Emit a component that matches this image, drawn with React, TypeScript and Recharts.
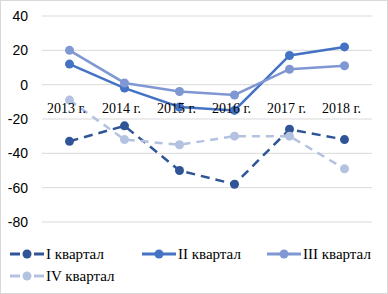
import { CartesianGrid, Line, LineChart, XAxis, YAxis } from "recharts";

const categories = ["2013 г.", "2014 г.", "2015 г.", "2016 г.", "2017 г.", "2018 г."];
const q1 = [-33, -24, -50, -58, -26, -32];
const q2 = [12, -2, -13, -15, 17, 22];
const q3 = [20, 1, -4, -6, 9, 11];
const q4 = [-9, -32, -35, -30, -30, -49];
const yTicks = [-80, -60, -40, -20, 0, 20, 40];

const series = [
  { key: "q1", name: "I квартал", color: "#2f5597", dash: "9 6" },
  { key: "q2", name: "II квартал", color: "#4472c4", dash: undefined },
  { key: "q3", name: "III квартал", color: "#7f97d2", dash: undefined },
  { key: "q4", name: "IV квартал", color: "#b4c2e2", dash: "8 6" },
];

const data = categories.map((name, i) => ({
  name,
  q1: q1[i],
  q2: q2[i],
  q3: q3[i],
  q4: q4[i],
}));

const W = 388;
const H = 294;
const M = { top: 16, right: 16, bottom: 70, left: 0 };
const X_AXIS_H = 2;
const plotH = H - M.top - M.bottom - X_AXIS_H;
const zeroY = M.top + (plotH * 40) / 120;
const halfBand = (W - 42 - M.right) / categories.length / 2;

const serif = "'Liberation Serif', 'Times New Roman', serif";

function CategoryTick({ x, payload }: any) {
  return (
    <text x={x - 3} y={zeroY + 28} textAnchor="middle" fontFamily={serif} fontSize={14} fill="#000">
      {payload.value}
    </text>
  );
}

// legend item slots: [left x, row]
const legendSlots = [
  [10, 0],
  [142, 0],
  [267, 0],
  [10, 1],
];

function ChartLegend() {
  return (
    <svg width={W} height={50} style={{ position: "absolute", left: -1, top: 241 }}>
      {series.map((s, i) => {
        const [lx, row] = legendSlots[i];
        const cy = 12 + row * 22;
        return (
          <g key={s.key}>
            {s.dash ? (
              <>
                <line x1={lx} y1={cy} x2={lx + 10} y2={cy} stroke={s.color} strokeWidth={3} />
                <line x1={lx + 24} y1={cy} x2={lx + 34} y2={cy} stroke={s.color} strokeWidth={3} />
              </>
            ) : (
              <line x1={lx} y1={cy} x2={lx + 34} y2={cy} stroke={s.color} strokeWidth={3} />
            )}
            <circle cx={lx + 17} cy={cy} r={4.5} fill={s.color} />
            <text x={lx + 36} y={cy + 5} fontFamily={serif} fontSize={15} fill="#000">
              {s.name}
            </text>
          </g>
        );
      })}
    </svg>
  );
}

export default function App() {
  return (
    <div
      style={{
        position: "absolute",
        left: 0,
        top: 0,
        width: W - 2,
        height: H - 2,
        border: "1px solid #d9d9d9",
        background: "#fff",
      }}
    >
      <div style={{ position: "absolute", left: -1, top: -1 }}>
        <LineChart width={W} height={H} data={data} margin={M}>
          <CartesianGrid vertical={false} stroke="#d9d9d9" />
          <XAxis
            dataKey="name"
            axisLine={false}
            tickLine={false}
            height={X_AXIS_H}
            interval={0}
            padding={{ left: halfBand, right: halfBand }}
            tick={(p: any) => <CategoryTick {...p} />}
          />
          <YAxis
            width={42}
            domain={[-80, 40]}
            ticks={yTicks}
            axisLine={false}
            tickLine={false}
            tickSize={0}
            tickMargin={14}
            tick={{ fontFamily: "'Liberation Sans', Arial, sans-serif", fontSize: 14, fill: "#000" }}
          />
          {series.map((s) => (
            <Line
              key={s.key}
              dataKey={s.key}
              name={s.name}
              stroke={s.color}
              strokeWidth={2.5}
              strokeDasharray={s.dash}
              dot={{ r: 4.5, fill: s.color, stroke: "none" }}
              activeDot={false}
              isAnimationActive={false}
            />
          ))}
        </LineChart>
      </div>
      <ChartLegend />
    </div>
  );
}
